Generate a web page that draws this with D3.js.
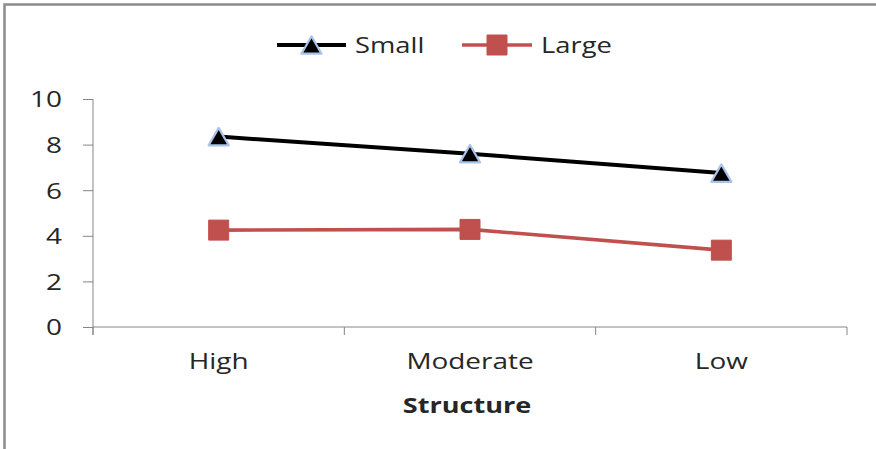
<!DOCTYPE html>
<html>
<head>
<meta charset="utf-8">
<script src="https://cdn.jsdelivr.net/npm/d3@7"></script>
<style>
  html, body { margin: 0; padding: 0; background: #fff; }
  svg { display: block; }
  text { font-family: "Open Sans", sans-serif; fill: #262626; }
</style>
</head>
<body>
<svg id="chart" width="876" height="449"></svg>
<script>
// Chart data
const categories = ["High", "Moderate", "Low"];
const smallValues = [8.35, 7.6, 6.75];
const largeValues = [4.25, 4.28, 3.37];
const yTicks = [0, 2, 4, 6, 8, 10];
const seriesNames = ["Small", "Large"];
const xTitle = "Structure";

const W = 876, H = 449;
const plot = { left: 93, right: 847, top: 99, bottom: 327 };
const stretch = 1.27;   // horizontally widened lettering
const fontSize = 22;

const svg = d3.select("#chart");

// outer frame (top and left edges)
svg.append("path")
  .attr("d", `M4.5,${H} L4.5,4.5 L${W},4.5`)
  .attr("fill", "none")
  .attr("stroke", "#8c8c8c")
  .attr("stroke-width", 2.5);

const x = d3.scaleBand().domain(categories).range([plot.left, plot.right]);
const y = d3.scaleLinear().domain([0, 10]).range([plot.bottom, plot.top]);

const axisColor = "#868686";

// y axis
const yAxis = svg.append("g")
  .attr("transform", `translate(${plot.left},0)`)
  .call(d3.axisLeft(y).tickValues(yTicks).tickSize(10).tickPadding(0).tickFormat(d3.format("d")));
yAxis.select(".domain").attr("stroke", axisColor).attr("d", `M0,${plot.top}V${plot.bottom + 8}`);
yAxis.selectAll(".tick line").attr("stroke", axisColor);
yAxis.selectAll(".tick text")
  .attr("x", null).attr("dy", null)
  .attr("text-anchor", "end")
  .attr("font-size", fontSize)
  .attr("transform", `translate(-31,7.8) scale(${stretch},1)`)
  .style("font-family", "'Open Sans', sans-serif")
  .attr("fill", "#262626");

// x axis with tick marks at category boundaries
const xAxis = svg.append("g").attr("transform", `translate(0,${plot.bottom})`);
xAxis.append("line")
  .attr("x1", plot.left).attr("x2", plot.right)
  .attr("stroke", axisColor);
const bounds = categories.map(c => x(c)).concat([x(categories[categories.length - 1]) + x.bandwidth()]);
xAxis.selectAll("line.bt").data(bounds).join("line")
  .attr("class", "bt")
  .attr("x1", d => d).attr("x2", d => d)
  .attr("y1", 0).attr("y2", 8)
  .attr("stroke", axisColor);
xAxis.selectAll("text.cat").data(categories).join("text")
  .attr("class", "cat")
  .attr("text-anchor", "middle")
  .attr("font-size", fontSize)
  .attr("transform", d => `translate(${x(d) + x.bandwidth() / 2},42) scale(${stretch},1)`)
  .text(d => d);

// axis title
svg.append("text")
  .attr("text-anchor", "middle")
  .attr("font-size", fontSize)
  .attr("font-weight", "bold")
  .attr("fill", "#111")
  .attr("transform", `translate(${(plot.left + plot.right) / 2 - 3},413) scale(${stretch * 0.97},1)`)
  .text(xTitle);

const cx = d => x(d) + x.bandwidth() / 2;

// marker shapes
const triSize = 175;
const triY = Math.sqrt(triSize / (Math.sqrt(3) * 3));
const triangle = d3.symbol().type(d3.symbolTriangle).size(triSize);
const square = d3.symbol().type(d3.symbolSquare).size(400);

const line = d3.line();

// Small series
const smallPts = categories.map((c, i) => [cx(c), y(smallValues[i])]);
svg.append("path")
  .attr("d", line(smallPts))
  .attr("fill", "none").attr("stroke", "#000").attr("stroke-width", 4);
svg.selectAll("path.tri").data(smallPts).join("path")
  .attr("class", "tri")
  .attr("d", triangle())
  .attr("transform", d => `translate(${d[0]},${d[1] + triY / 2})`)
  .attr("fill", "#000")
  .attr("stroke", "#a9c3ea")
  .attr("stroke-width", 2.2)
  .attr("stroke-linejoin", "round");

// Large series
const largePts = categories.map((c, i) => [cx(c), y(largeValues[i])]);
svg.append("path")
  .attr("d", line(largePts))
  .attr("fill", "none").attr("stroke", "#c0504d").attr("stroke-width", 3.6);
svg.selectAll("path.sq").data(largePts).join("path")
  .attr("class", "sq")
  .attr("d", square())
  .attr("transform", d => `translate(${d[0]},${d[1]})`)
  .attr("fill", "#c0504d")
  .attr("stroke", "#c0504d")
  .attr("stroke-width", 1)
  .attr("stroke-linejoin", "round");

// legend
const legendY = 45;
const legend = [
  { name: seriesNames[0], x0: 277, x1: 346, color: "#000", width: 4, marker: "tri" },
  { name: seriesNames[1], x0: 462, x1: 532, color: "#c0504d", width: 3.6, marker: "sq" }
];
legend.forEach(l => {
  const g = svg.append("g");
  g.append("line")
    .attr("x1", l.x0).attr("x2", l.x1).attr("y1", legendY).attr("y2", legendY)
    .attr("stroke", l.color).attr("stroke-width", l.width);
  const mx = (l.x0 + l.x1) / 2;
  if (l.marker === "tri") {
    g.append("path").attr("d", triangle())
      .attr("transform", `translate(${mx},${legendY + triY / 2})`)
      .attr("fill", "#000").attr("stroke", "#a9c3ea").attr("stroke-width", 2.2)
      .attr("stroke-linejoin", "round");
  } else {
    g.append("path").attr("d", square())
      .attr("transform", `translate(${mx},${legendY})`)
      .attr("fill", l.color).attr("stroke", l.color).attr("stroke-width", 1)
      .attr("stroke-linejoin", "round");
  }
  g.append("text")
    .attr("font-size", fontSize)
    .attr("transform", `translate(${l.x1 + 9},${legendY + 7.8}) scale(${stretch * 0.98},1)`)
    .text(l.name);
});
</script>
</body>
</html>
